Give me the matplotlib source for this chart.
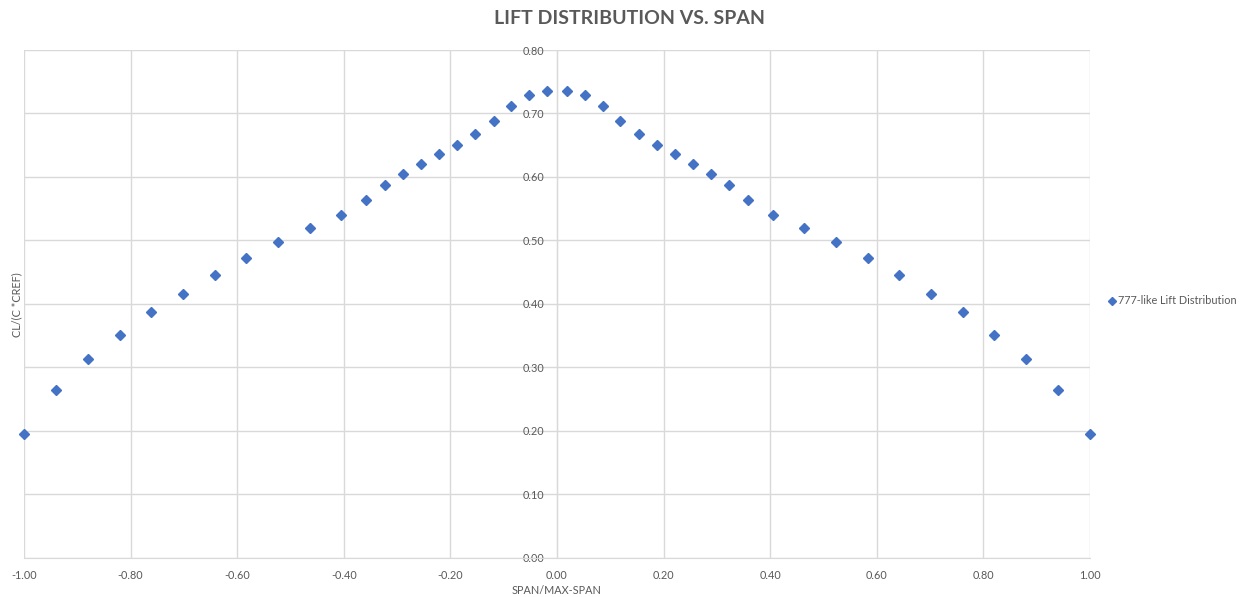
import matplotlib.pyplot as plt
import numpy as np

# span stations (left half), mirrored for the right wing
half_span = [-1.000, -0.940, -0.880, -0.820, -0.761, -0.702, -0.642, -0.583, -0.523,
             -0.464, -0.405, -0.358, -0.323, -0.289, -0.255, -0.221, -0.187, -0.153,
             -0.119, -0.086, -0.052, -0.018]
half_lift = [0.195, 0.265, 0.313, 0.351, 0.387, 0.416, 0.446, 0.472, 0.497,
             0.519, 0.540, 0.564, 0.587, 0.604, 0.621, 0.636, 0.651, 0.667,
             0.688, 0.711, 0.729, 0.736]

span = np.array(half_span + [-v for v in half_span[::-1]])
lift = np.array(half_lift + half_lift[::-1])

series_name = "777-like Lift Distribution"
x_ticks = [-1.0, -0.8, -0.6, -0.4, -0.2, 0.0, 0.2, 0.4, 0.6, 0.8, 1.0]
y_ticks = [0.0, 0.1, 0.2, 0.3, 0.4, 0.5, 0.6, 0.7, 0.8]

plt.rcParams['font.family'] = ['Lato', 'DejaVu Sans']
txt_col = '#595959'
grid_col = '#D9D9D9'
blue = '#4472C4'

fig = plt.figure(figsize=(12.46, 5.97), dpi=100)
ax = fig.add_axes([24/1246, 1-557.7/597, 1066/1246, 507.7/597])

ax.plot(span, lift, linestyle='none', marker='D', markersize=5.5,
        color=blue, label=series_name, clip_on=False, zorder=3)

ax.set_xlim(-1, 1)
ax.set_ylim(0, 0.8)
ax.set_xticks(x_ticks)
ax.set_yticks(y_ticks)
ax.set_xticklabels(["%.2f" % v for v in x_ticks])
ax.set_yticklabels(["%.2f" % v for v in y_ticks])
ax.grid(True, color=grid_col, linewidth=1.0)
ax.set_axisbelow(True)

for s in ['top', 'right']:
    ax.spines[s].set_visible(False)
ax.spines['left'].set_position(('data', 0))
ax.spines['left'].set_color(grid_col)
ax.spines['bottom'].set_color(grid_col)
ax.tick_params(axis='both', length=0, labelsize=7.8, labelcolor=txt_col)
ax.tick_params(axis='y', pad=9)
ax.tick_params(axis='x', pad=9)

fig.text(557/1246, 1-591/597, "SPAN/MAX-SPAN", ha='center', va='center',
         fontsize=7.8, color=txt_col)
fig.text(17/1246, 1-305/597, "CL/(C *CREF)", ha='center', va='center',
         rotation=90, fontsize=7.8, color=txt_col)
fig.text(629/1246, 1-19/597, "LIFT DISTRIBUTION VS. SPAN", ha='center', va='center',
         fontsize=14, fontweight='bold', color=txt_col)

fig.legend(loc='center left', bbox_to_anchor=(1099/1246, 1-301/597), frameon=False,
           fontsize=7.8, handlelength=0.6, handletextpad=0.3, markerscale=0.8,
           labelcolor=txt_col)

fig.savefig('out.png', dpi=100)
